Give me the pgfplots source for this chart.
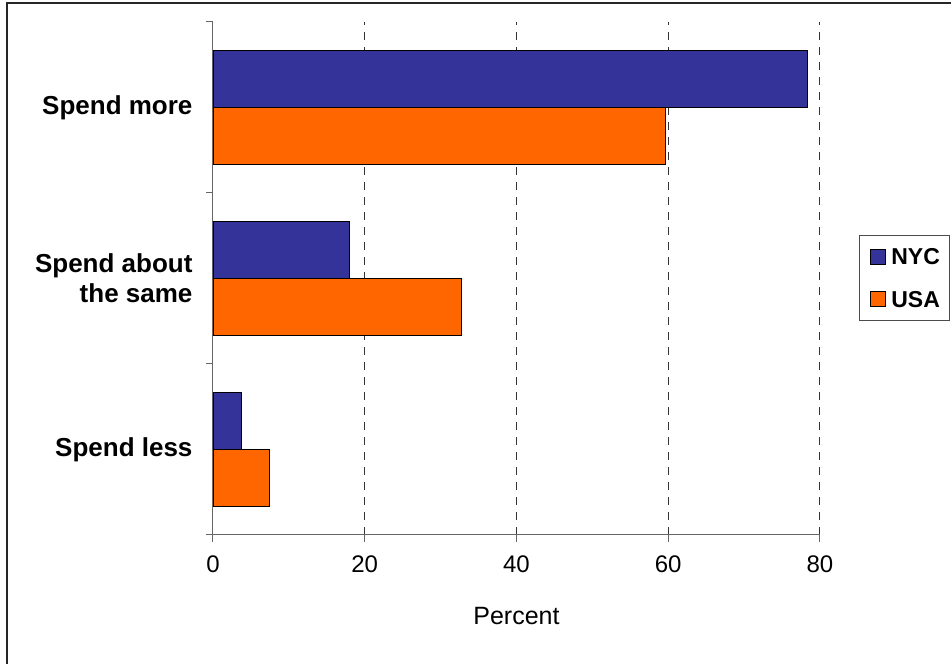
\documentclass[border=0pt]{standalone}
\usepackage{pgfplots}
\pgfplotsset{compat=1.18}
\usepackage{fontspec}
\setmainfont{Liberation Sans}
\definecolor{nyc}{HTML}{333399}
\definecolor{usa}{HTML}{FF6600}
\begin{document}
\begin{tikzpicture}[x=1pt,y=1pt]
\useasboundingbox (0,0) rectangle (951,664);
\draw[line width=1.2pt, black!85] (7,0) -- (7,661) -- (951,661);
\begin{axis}[
  at={(213pt,129pt)}, anchor=south west,
  scale only axis, width=607pt, height=513pt,
  xmin=0, xmax=80, ymin=-0.5, ymax=2.5,
  xbar, bar width=57pt,
  xtick={0,20,40,60,80},
  ytick={-0.5,0.5,1.5,2.5},
  yticklabels={Spend less, {Spend about\\the same}, Spend more},
  y tick label as interval,
  axis lines=left, axis line style={-, draw=black!60, line width=1pt},
  tick align=outside, major tick length=7pt,
  tick style={draw=black!60, line width=1pt},
  xmajorgrids, grid style={dash pattern=on 8pt off 7pt, black!80, line width=1pt},
  /pgf/number format/assume math mode=true,
  xticklabel style={font=\fontsize{24}{24}\selectfont, yshift=-10pt},
  yticklabel style={font=\bfseries\fontsize{26}{30}\selectfont, align=right, xshift=-10pt},
  xlabel={Percent}, xlabel style={font=\fontsize{25}{25}\selectfont, yshift=-28pt},
  legend style={at={(1.0643,0.501)}, anchor=west, draw=black!70, line width=1pt, fill=white,
    font=\bfseries\fontsize{23}{23}\selectfont,
    inner xsep=10pt, inner ysep=13pt, row sep=26pt,
    nodes={inner sep=0pt, text height=16.5pt, text depth=0pt},
    /tikz/every odd column/.append style={column sep=6pt}},
  legend image code/.code={\draw[#1, line width=0.8pt] (0pt,-7.5pt) rectangle (15pt,7.5pt);},
  legend cell align=left,
]
\addplot[fill=nyc, draw=black, line width=0.8pt, bar shift=28.5pt] coordinates {(78.3,2) (18.0,1) (3.7,0)};
\addplot[fill=usa, draw=black, line width=0.8pt, bar shift=-28.5pt] coordinates {(59.6,2) (32.7,1) (7.4,0)};
\legend{NYC, USA}
\end{axis}
\end{tikzpicture}
\end{document}
